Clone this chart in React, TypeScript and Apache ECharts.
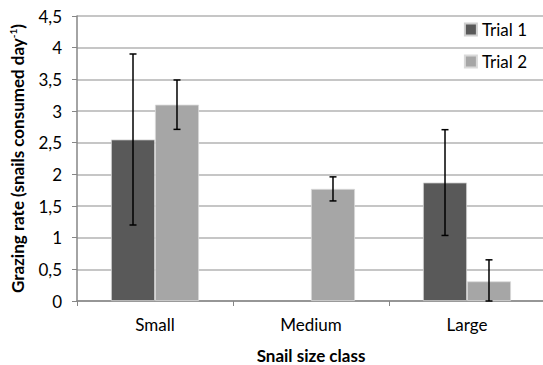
import React, { useEffect, useRef } from "react";
import * as echarts from "echarts";

const categories = ["Small", "Medium", "Large"];
const trial1: (number | string)[] = [2.55, "-", 1.87];
const trial2: number[] = [3.1, 1.77, 0.31];
const trial1Err: (number | null)[] = [1.35, null, 0.835];
const trial2Err: number[] = [0.39, 0.19, 0.34];
const yTicks = [0, 0.5, 1, 1.5, 2, 2.5, 3, 3.5, 4, 4.5];

const FONT = "Lato";

function errData(vals: (number | string)[], errs: (number | null)[]) {
  const out: any[] = [];
  vals.forEach((v, i) => {
    const e = errs[i];
    if (typeof v === "number" && e != null) {
      out.push([i, Math.max(0, v - e), v + e]);
    }
  });
  return out;
}

function makeErr(side: number) {
  return (params: any, api: any) => {
    const ci = api.value(0);
    const lo = api.coord([ci, api.value(1)]);
    const hi = api.coord([ci, api.value(2)]);
    const band = api.size([1, 0])[0];
    const bw = band * 0.282;
    const x = lo[0] + side * bw / 2;
    const cap = 3.5;
    const style = { stroke: "#000", lineWidth: 1.5 };
    return {
      type: "group",
      children: [
        { type: "line", shape: { x1: x, y1: lo[1], x2: x, y2: hi[1] }, style },
        { type: "line", shape: { x1: x - cap, y1: hi[1], x2: x + cap, y2: hi[1] }, style },
        { type: "line", shape: { x1: x - cap, y1: lo[1], x2: x + cap, y2: lo[1] }, style },
      ],
    };
  };
}

export default function App() {
  const ref = useRef<HTMLDivElement>(null);
  useEffect(() => {
    if (!ref.current) return;
    const chart = echarts.init(ref.current, null, { renderer: "svg" });
    chart.setOption({
      animation: false,
      backgroundColor: "#fff",
      textStyle: { fontFamily: FONT },
      grid: { left: 77, top: 16, width: 468, height: 285, outerBoundsMode: "none", containLabel: false },
      legend: {
        orient: "vertical",
        right: 11,
        top: 16,
        itemWidth: 12,
        itemHeight: 12,
        itemGap: 15,
        icon: "rect",
        textStyle: { fontFamily: FONT, fontSize: 17, color: "#000" },
        data: ["Trial 1", "Trial 2"],
      },
      xAxis: {
        type: "category",
        data: categories,
        name: "Snail size class",
        nameLocation: "middle",
        nameGap: 46,
        nameTextStyle: { fontFamily: FONT, fontSize: 17, fontWeight: "bold", color: "#000" },
        axisLine: { lineStyle: { color: "#868686", width: 1.5 } },
        axisTick: { show: true, length: 5, lineStyle: { color: "#868686" } },
        axisLabel: { fontFamily: FONT, fontSize: 17, color: "#000", margin: 15 },
      },
      yAxis: {
        type: "value",
        min: 0,
        max: 4.5,
        interval: 0.5,
        name: "{t|Grazing rate (snails consumed day}{s|-1}{t|)}",
        nameLocation: "middle",
        nameRotate: 90,
        nameGap: 50,
        nameTextStyle: {
          rich: {
            t: { fontFamily: FONT, fontSize: 17, fontWeight: "bold", color: "#000" },
            s: { fontFamily: FONT, fontSize: 10, fontWeight: "bold", color: "#000", verticalAlign: "top", padding: [0, 0, 9, 0] },
          },
        },
        axisLine: { show: true, lineStyle: { color: "#868686", width: 1.5 } },
        axisTick: { show: true, length: 5, lineStyle: { color: "#868686" } },
        axisLabel: {
          fontFamily: FONT,
          fontSize: 17,
          color: "#000",
          margin: 15,
          formatter: (v: number) => (yTicks.includes(v) ? String(v).replace(".", ",") : ""),
        },
        splitLine: { lineStyle: { color: "#b3b3b3", width: 1.5 } },
      },
      series: [
        {
          name: "Trial 1",
          type: "bar",
          data: trial1,
          barWidth: "28.2%",
          barGap: "0%",
          itemStyle: { color: "#595959", borderColor: "#d0d0d0", borderWidth: 0.8 },
        },
        {
          name: "Trial 2",
          type: "bar",
          data: trial2,
          barWidth: "28.2%",
          barGap: "0%",
          itemStyle: { color: "#a6a6a6", borderColor: "#d9d9d9", borderWidth: 0.8 },
        },
        {
          type: "custom",
          name: "err1",
          renderItem: makeErr(-1),
          data: errData(trial1, trial1Err),
          encode: { x: 0, y: [1, 2] },
          z: 10,
        },
        {
          type: "custom",
          name: "err2",
          renderItem: makeErr(1),
          data: errData(trial2, trial2Err),
          encode: { x: 0, y: [1, 2] },
          z: 10,
        },
      ],
    });
    return () => chart.dispose();
  }, []);
  return (
    <div
      ref={ref}
      style={{ position: "fixed", left: 0, top: 0, width: 543, height: 365 }}
    />
  );
}
